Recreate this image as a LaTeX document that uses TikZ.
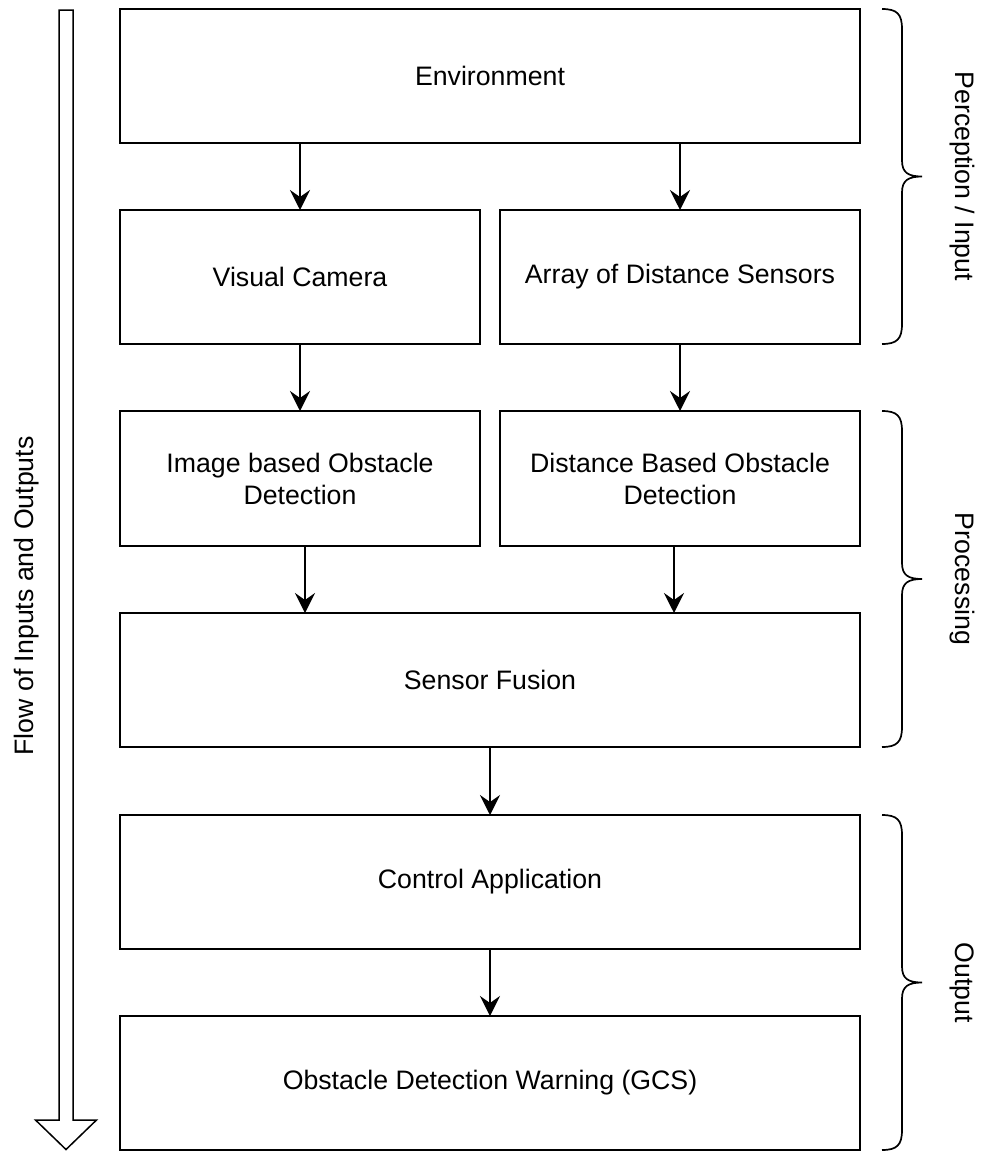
\documentclass[tikz,border=0pt]{standalone}
\usepackage{fontspec}
\setmainfont{Liberation Sans}
\usetikzlibrary{arrows.meta}

\tikzset{
  box/.style={draw, line width=1.7pt, fill=white, align=center,
    minimum width=740pt, minimum height=134pt, inner sep=0pt, outer sep=0pt,
    font=\fontsize{26.7}{32}\selectfont},
  halfbox/.style={box, minimum width=360pt},
  flowarrow/.style={line width=1.7pt, -{Stealth[length=20pt, width=20pt, inset=7pt]}},
  bracket/.style={line width=1.7pt},
  sidelabel/.style={rotate=-90, anchor=base, inner sep=0pt,
    font=\fontsize{26.7}{32}\selectfont},
  flowlabel/.style={rotate=90, anchor=base, inner sep=0pt,
    font=\fontsize{26.7}{32}\selectfont},
  hollow/.style={line width=1.5pt, fill=white}
}

% curly bracket opening to the left, from y=#1 down to y=#2, tip at the middle
\newcommand\sidebracket[2]{%
  \pgfmathsetmacro\bmid{(#1+#2)/2}%
  \draw[bracket] (882,#1) .. controls (897,#1) and (902,#1+5) .. (902,#1+20)
    -- (902,\bmid-16) .. controls (902,\bmid-4) and (908,\bmid) .. (922,\bmid)
    .. controls (908,\bmid) and (902,\bmid+4) .. (902,\bmid+16)
    -- (902,#2-20) .. controls (902,#2-5) and (897,#2) .. (882,#2);%
}

\begin{document}
\begin{tikzpicture}[x=1pt, y=-1pt]
  \useasboundingbox (0,0) rectangle (982,1151);

  % wide hollow arrow on the left
  \draw[hollow] (59,10) -- (73,10) -- (73,1120) -- (96.5,1120) -- (66,1149.5)
    -- (35.5,1120) -- (59,1120) -- cycle;
  \node[flowlabel] (flow) at (33,596) {Flow of Inputs and Outputs};

  % blocks
  \node[box] (env) at (490,76) {Environment};
  \node[halfbox] (cam) at (300,277) {Visual Camera};
  \node[halfbox] (arr) at (680,277) {Array of Distance Sensors};
  \node[halfbox, minimum height=135pt] (img) at (300,478.5) {Image based Obstacle\\Detection};
  \node[halfbox, minimum height=135pt] (dist) at (680,478.5) {Distance Based Obstacle\\Detection};
  \node[box] (fus) at (490,680) {Sensor Fusion};
  \node[box] (ctl) at (490,882) {Control Application};
  \node[box] (warn) at (490,1083) {Obstacle Detection Warning (GCS)};

  % connectors
  \draw[flowarrow] (env.south -| cam.north) -- (cam.north);
  \draw[flowarrow] (env.south -| arr.north) -- (arr.north);
  \draw[flowarrow] (cam) -- (img);
  \draw[flowarrow] (arr) -- (dist);
  \draw[flowarrow] ([xshift=5pt]img.south) -- ([xshift=5pt]img.south |- fus.north);
  \draw[flowarrow] ([xshift=-6pt]dist.south) -- ([xshift=-6pt]dist.south |- fus.north);
  \draw[flowarrow] (fus) -- (ctl);
  \draw[flowarrow] (ctl) -- (warn);

  % stage brackets and their labels
  \sidebracket{9}{344}
  \sidebracket{411}{747}
  \sidebracket{815}{1150}
  \node[sidelabel] (perc) at (955,176.5) {Perception / Input};
  \node[sidelabel] (proc) at (955,579) {Processing};
  \node[sidelabel] (outp) at (955,982.5) {Output};
\end{tikzpicture}
\end{document}
